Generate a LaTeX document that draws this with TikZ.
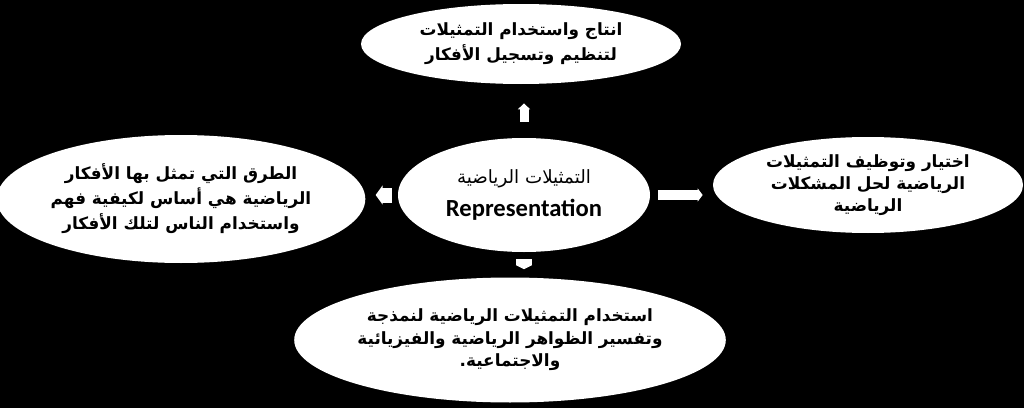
\documentclass[tikz,border=0pt]{standalone}
\usepackage{fontspec}
\setmainfont{Liberation Sans}
\newfontfamily\arabicfont[Script=Arabic]{DejaVu Sans}
\newfontfamily\latinfont{Carlito}
\TeXXeTstate=1
\usetikzlibrary{arrows.meta,shapes.geometric}

\begin{document}
\begin{tikzpicture}[
    bubble/.style={ellipse, fill=white, draw=none, inner sep=0pt, align=center,
        font=\arabicfont\bfseries\fontsize{9.6}{14.2}\selectfont},
    blk/.style={white, line width=#1},
]
        %% Frame and background
        \useasboundingbox (0,0) rectangle (20.48,8.16);
        \fill[black] (0,0) rectangle (20.48,8.16);
        %% Centre
        \node[bubble, minimum width=5.04cm, minimum height=2.28cm,
            font=\arabicfont\fontsize{10.4}{13}\selectfont] (rep) at (10.48,4.26)
            {\beginR التمثيلات الرياضية\endR\\[6pt]
             {\latinfont\bfseries\fontsize{14}{15}\selectfont Representation}};
        %% Outer ellipses
        \node[bubble, minimum width=6.4cm, minimum height=1.6cm] (top) at (10.42,7.28)
            {\beginR انتاج واستخدام التمثيلات\endR\\
             \beginR لتنظيم وتسجيل الأفكار\endR};
        \node[bubble, minimum width=7.16cm, minimum height=2.56cm] (left) at (3.62,4.18)
            {\beginR الطرق التي تمثل بها الأفكار\endR\\
             \beginR الرياضية هي أساس لكيفية فهم\endR\\
             \beginR واستخدام الناس لتلك الأفكار\endR};
        \node[bubble, minimum width=6.2cm, minimum height=1.92cm,
            font=\arabicfont\bfseries\fontsize{9.6}{12.6}\selectfont] (right) at (17.36,4.46)
            {\beginR اختيار وتوظيف التمثيلات\endR\\
             \beginR الرياضية لحل المشكلات\endR\\
             \beginR الرياضية\endR};
        \node[bubble, minimum width=8.4cm, minimum height=2.5cm,
            font=\arabicfont\bfseries\fontsize{9.6}{12.8}\selectfont] (bot) at (10.2,1.36)
            {\beginR استخدام التمثيلات الرياضية لنمذجة\endR\\
             \beginR وتفسير الظواهر الرياضية والفيزيائية\endR\\
             \beginR والاجتماعية.\endR};
        %% Block arrows
        \draw[blk=0.18cm, -{Triangle[width=0.24cm,length=0.12cm]},
            shorten <=0.32cm, shorten >=0.38cm] (rep.north) -- (rep.north |- top.south);
        \draw[blk=0.3cm, -{Triangle[width=0.38cm,length=0.14cm]},
            shorten <=0.12cm, shorten >=0.2cm] (rep.west) -- (rep.west -| left.east);
        \draw[blk=0.2cm, -{Triangle[width=0.26cm,length=0.1cm]},
            shorten <=0.16cm, shorten >=0.2cm] (rep.east) -- (rep.east -| right.west);
        \draw[blk=0.32cm, -{Triangle[width=0.32cm,length=0.08cm]},
            shorten <=0.14cm, shorten >=0.16cm] (rep.south) -- (rep.south |- bot.north);
\end{tikzpicture}
\end{document}
